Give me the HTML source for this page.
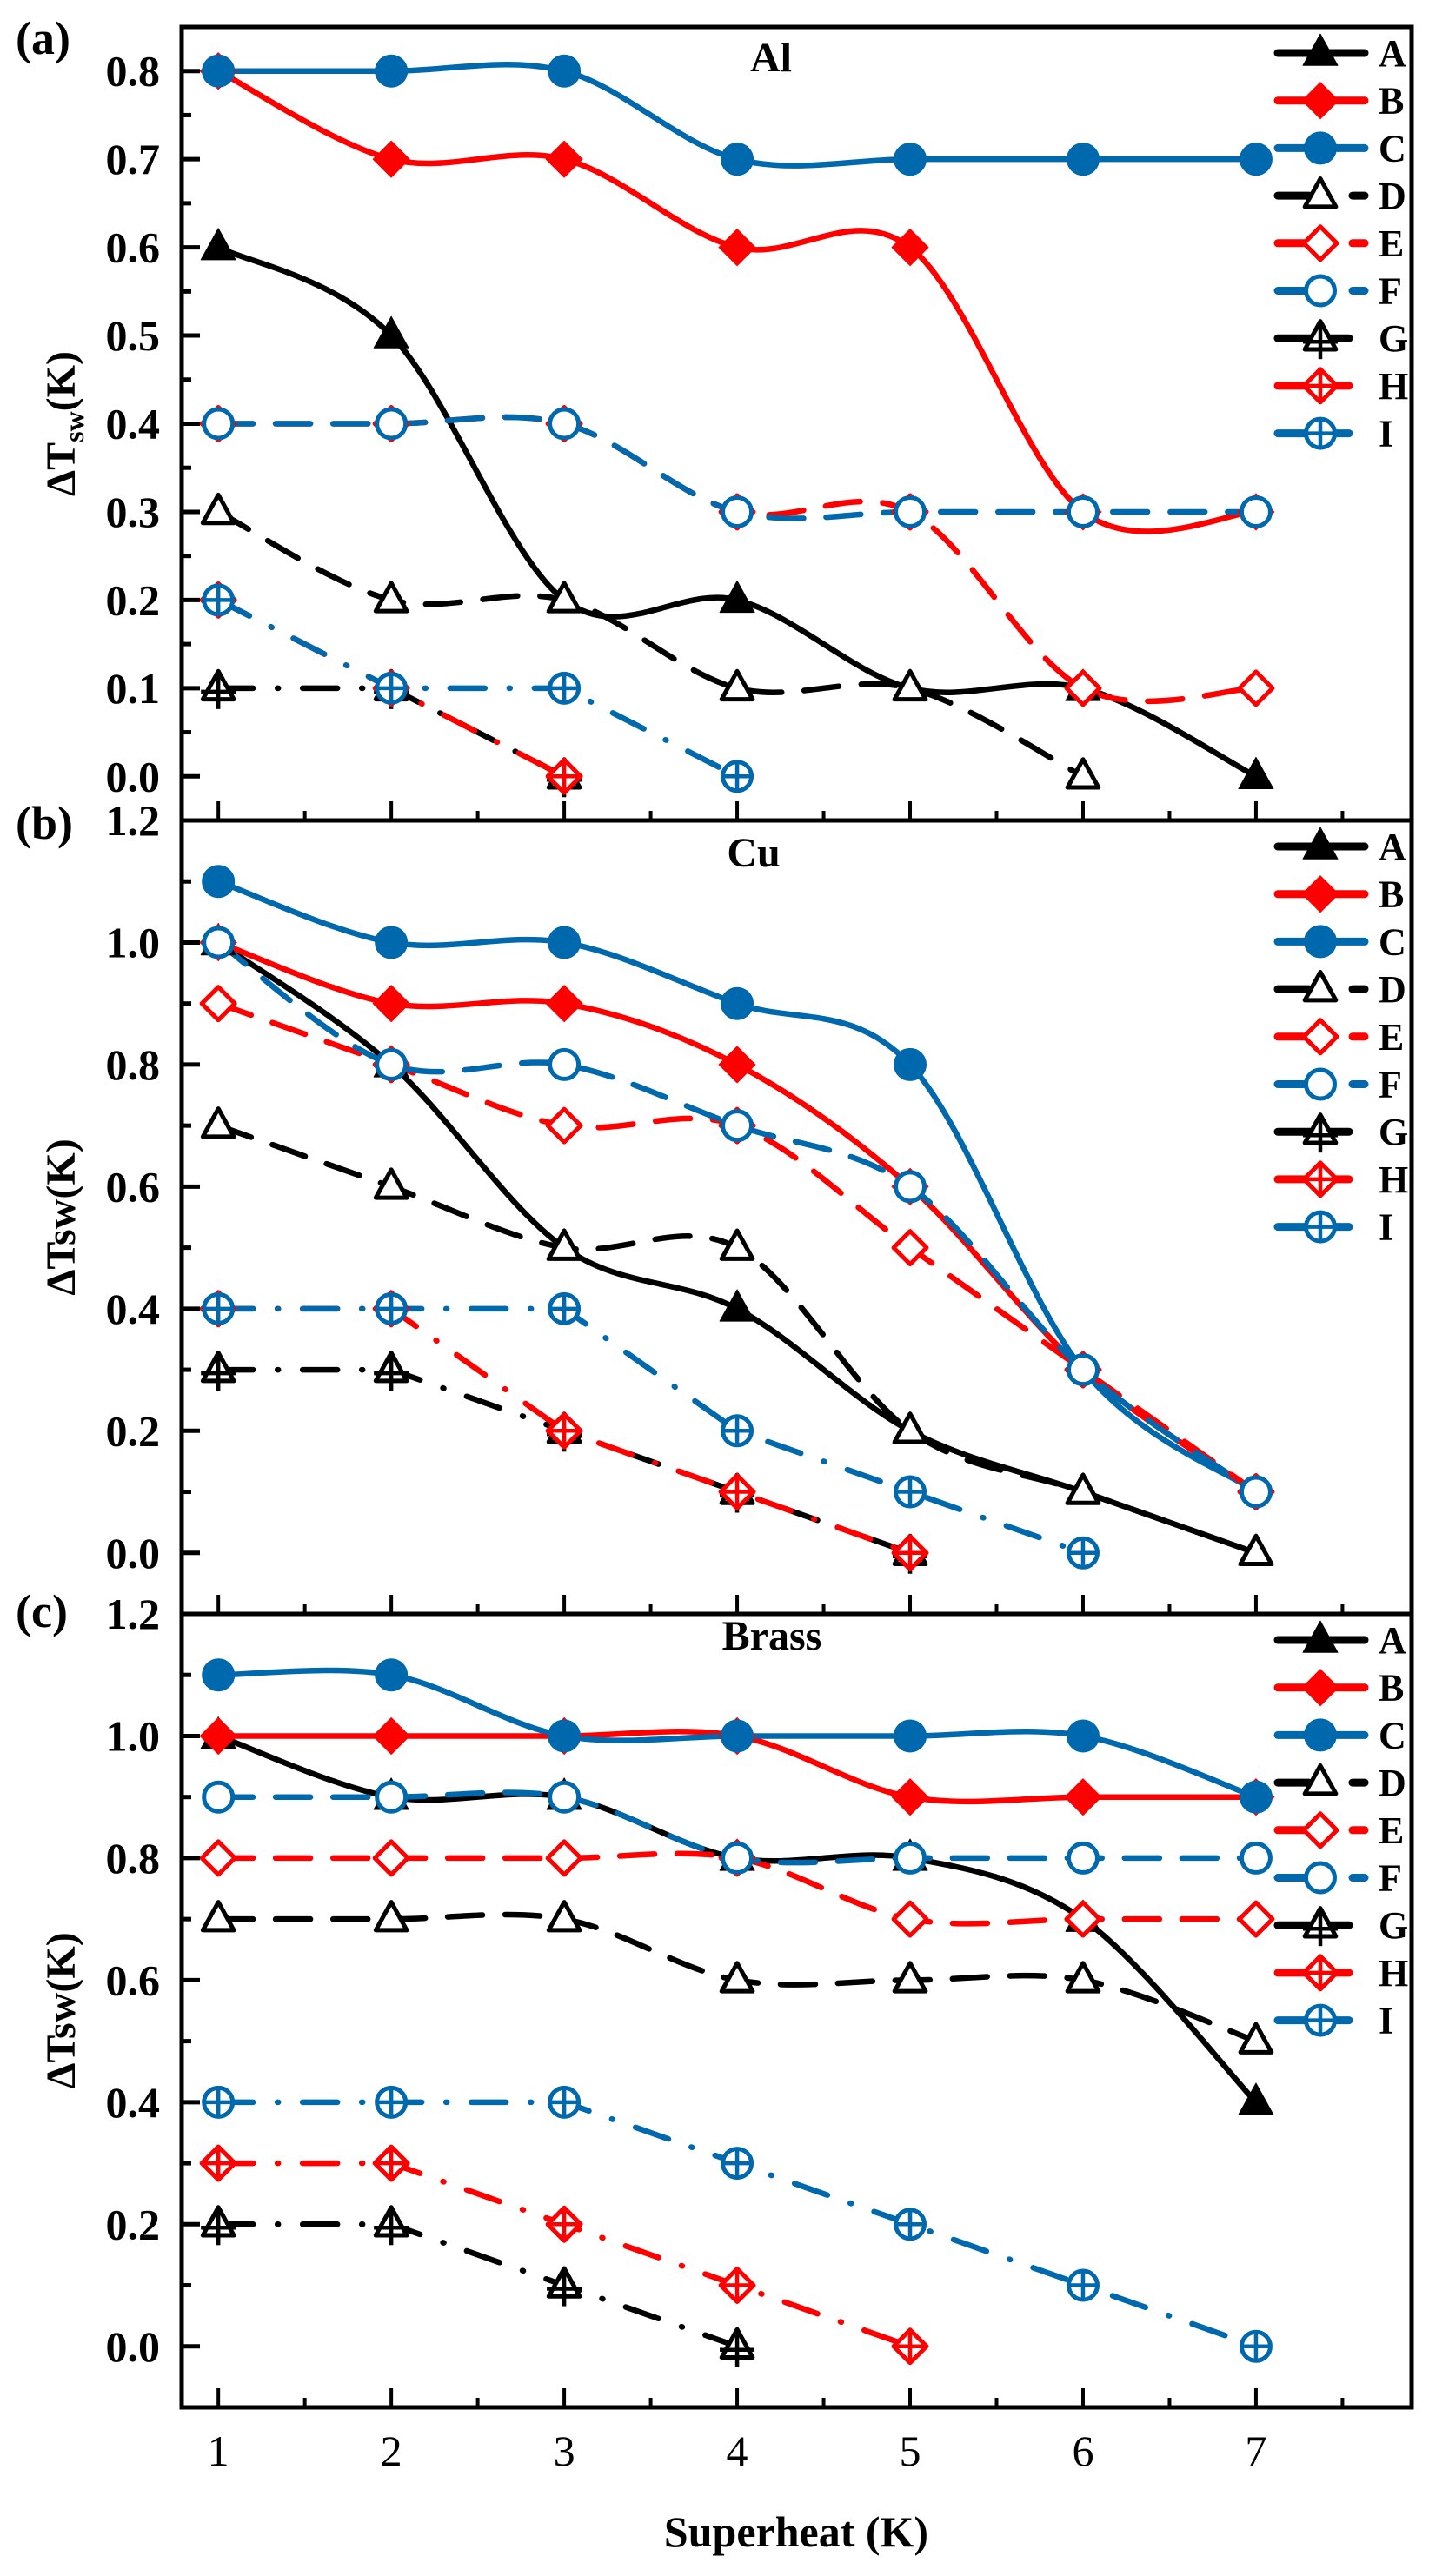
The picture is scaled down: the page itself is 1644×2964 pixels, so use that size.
<!DOCTYPE html>
<html><head><meta charset="utf-8"><style>
html,body{margin:0;padding:0;background:#fff;}
svg{display:block;font-family:"Liberation Serif",serif;font-weight:bold;}
</style></head><body>
<svg id="chart" width="1644" height="2964" viewBox="0 0 1644 2964" xmlns="http://www.w3.org/2000/svg"></svg>
<script>
const xCategories = [1,2,3,4,5,6,7];
const xTickLabels = ['1','2','3','4','5','6','7'];
const seriesNames = ['A','B','C','D','E','F','G','H','I'];
// Panel (a) Al
const alA = [0.6,0.5,0.2,0.2,0.1,0.1,0.0];
const alB = [0.8,0.7,0.7,0.6,0.6,0.3,0.3];
const alC = [0.8,0.8,0.8,0.7,0.7,0.7,0.7];
const alD = [0.3,0.2,0.2,0.1,0.1,0.0];
const alE = [0.4,0.4,0.4,0.3,0.3,0.1,0.1];
const alF = [0.4,0.4,0.4,0.3,0.3,0.3,0.3];
const alG = [0.1,0.1,0.0];
const alH = [0.2,0.1,0.0];
const alI = [0.2,0.1,0.1,0.0];
// Panel (b) Cu
const cuA = [1.0,0.8,0.5,0.4,0.2,0.1,0.0];
const cuB = [1.0,0.9,0.9,0.8,0.6,0.3,0.1];
const cuC = [1.1,1.0,1.0,0.9,0.8,0.3,0.1];
const cuD = [0.7,0.6,0.5,0.5,0.2,0.1,0.0];
const cuE = [0.9,0.8,0.7,0.7,0.5,0.3,0.1];
const cuF = [1.0,0.8,0.8,0.7,0.6,0.3,0.1];
const cuG = [0.3,0.3,0.2,0.1,0.0];
const cuH = [0.4,0.4,0.2,0.1,0.0];
const cuI = [0.4,0.4,0.4,0.2,0.1,0.0];
// Panel (c) Brass
const brA = [1.0,0.9,0.9,0.8,0.8,0.7,0.4];
const brB = [1.0,1.0,1.0,1.0,0.9,0.9,0.9];
const brC = [1.1,1.1,1.0,1.0,1.0,1.0,0.9];
const brD = [0.7,0.7,0.7,0.6,0.6,0.6,0.5];
const brE = [0.8,0.8,0.8,0.8,0.7,0.7,0.7];
const brF = [0.9,0.9,0.9,0.8,0.8,0.8,0.8];
const brG = [0.2,0.2,0.1,0.0];
const brH = [0.3,0.3,0.2,0.1,0.0];
const brI = [0.4,0.4,0.4,0.3,0.2,0.1,0.0];
const yTicksA = ['0.0','0.1','0.2','0.3','0.4','0.5','0.6','0.7','0.8'];
const yTicksBC = ['0.0','0.2','0.4','0.6','0.8','1.0','1.2'];

const NS='http://www.w3.org/2000/svg';
const svg=document.getElementById('chart');
function mk(tag,attrs,parent){const e=document.createElementNS(NS,tag);for(const k in attrs)e.setAttribute(k,attrs[k]);(parent||svg).appendChild(e);return e;}

const L=209,R=1624,XMIN=0.788,XMAX=7.9;
function xs(v){return L+(v-XMIN)/(XMAX-XMIN)*(R-L);}
const BLACK='#000',RED='#ff0000',BLUE='#0068ad';
const styles=[
 {c:BLACK,m:'tri',fill:true,d:'solid'},{c:RED,m:'dia',fill:true,d:'solid'},{c:BLUE,m:'cir',fill:true,d:'solid'},
 {c:BLACK,m:'tri',fill:false,d:'dash'},{c:RED,m:'dia',fill:false,d:'dash'},{c:BLUE,m:'cir',fill:false,d:'dash'},
 {c:BLACK,m:'tri',fill:false,d:'dashdot',plus:true},{c:RED,m:'dia',fill:false,d:'dashdot',plus:true},{c:BLUE,m:'cir',fill:false,d:'dashdot',plus:true}];
const dashes={solid:'none',dash:'40 26',dashdot:'40 28 1 28'};

function marker(g,st,x,y){
  const sw=5;
  const fill=st.fill?st.c:'#fff';
  const common={fill:fill,stroke:st.c,'stroke-width':st.fill?1:sw,'stroke-linejoin':'round'};
  let e;
  if(st.m==='tri'){const h=st.fill?19:17;e=mk('polygon',Object.assign({points:`${x},${y-h*1.15} ${x+h*1.05},${y+h*0.75} ${x-h*1.05},${y+h*0.75}`},common),g);}
  else if(st.m==='dia'){const h=st.fill?21:19;e=mk('polygon',Object.assign({points:`${x},${y-h} ${x+h},${y} ${x},${y+h} ${x-h},${y}`},common),g);}
  else {e=mk('circle',Object.assign({cx:x,cy:y,r:st.fill?18.5:16.5},common),g);}
  
  
  if(st.plus){
    const vb=st.m==='tri'?24:16, hb=st.m==='tri'?20:16;
    mk('line',{x1:x,y1:y-16,x2:x,y2:y+vb,stroke:st.c,'stroke-width':4.5},g);
    mk('line',{x1:x-hb,y1:y+(st.m==='tri'?4:0),x2:x+hb,y2:y+(st.m==='tri'?4:0),stroke:st.c,'stroke-width':4.5},g);
  }
}
function splinePath(pts){
  let d=`M${pts[0][0]},${pts[0][1]}`;
  for(let i=0;i<pts.length-1;i++){
    const p0=pts[Math.max(0,i-1)],p1=pts[i],p2=pts[i+1],p3=pts[Math.min(pts.length-1,i+2)];
    const c1=[p1[0]+(p2[0]-p0[0])/6,p1[1]+(p2[1]-p0[1])/6];
    const c2=[p2[0]-(p3[0]-p1[0])/6,p2[1]-(p3[1]-p1[1])/6];
    d+=` C${c1[0]},${c1[1]} ${c2[0]},${c2[1]} ${p2[0]},${p2[1]}`;
  }
  return d;
}

function panel(cfg){
  const {top,bottom,ymin,ymax,series,yLabels,yStep,yMinor,title,titleY,label,labelY,name,subTitle}=cfg;
  const ys=v=>bottom-(v-ymin)/(ymax-ymin)*(bottom-top);
  const g=mk('g',{});
  
  
  series.forEach((vals,si)=>{
    const st=styles[si];
    const pts=vals.map((v,i)=>[xs(xCategories[i]),ys(v)]);
    const d=st.d==='dashdot'?('M'+pts.map(p=>p.join(',')).join(' L')):splinePath(pts);
    const p=mk('path',{d:d,fill:'none',stroke:st.c,'stroke-width':6.5,'stroke-dasharray':dashes[st.d],'stroke-linecap':'round'},g);
    
    
  });
  series.forEach((vals,si)=>{
    const mg=mk('g',{},g);
    
    
    vals.forEach((v,i)=>marker(mg,styles[si],xs(xCategories[i]),ys(v)));
  });
  const box=mk('rect',{x:L,y:top,width:R-L,height:bottom-top,fill:'none',stroke:'#000','stroke-width':5},g);
  
  
  yLabels.forEach((lab,i)=>{
    const v=i*yStep, y=ys(v);
    mk('line',{x1:L,y1:y,x2:L+21,y2:y,stroke:'#000','stroke-width':5},g);
    const t=mk('text',{x:184,y:y+17,'text-anchor':'end','font-size':50},g);
    t.textContent=lab;
    
    
  });
  for(let v=yMinor;v<ymax;v+=yStep){mk('line',{x1:L,y1:ys(v),x2:L+11,y2:ys(v),stroke:'#000','stroke-width':5},g);}
  xCategories.forEach(c=>{mk('line',{x1:xs(c),y1:bottom,x2:xs(c),y2:bottom-22,stroke:'#000','stroke-width':4},g);
    mk('line',{x1:xs(c+0.5),y1:bottom,x2:xs(c+0.5),y2:bottom-11,stroke:'#000','stroke-width':4},g);});
  const tt=mk('text',{x:cfg.titleX,y:titleY,'text-anchor':'middle','font-size':48},g);
  tt.textContent=title;
  
  
  const pl=mk('text',{x:18,y:labelY,'font-size':54},g);
  pl.textContent=label;
  
  
  const cy=(top+bottom)/2;
  const yt=mk('text',{x:0,y:0,'text-anchor':'middle','font-size':48,transform:`translate(86,${cy}) rotate(-90)`},g);
  if(subTitle){yt.innerHTML='ΔT<tspan font-size="32" dy="10">sw</tspan><tspan dy="-10">(K)</tspan>';}
  else yt.textContent='ΔTsw(K)';
  
  
  const lg=mk('g',{},g);
  
  
  seriesNames.forEach((n,i)=>{
    const st=styles[i], y=top+30+i*54.7;
    const eg=mk('g',{},lg);
    
    
    mk('line',{x1:1470,y1:y,x2:st.d==='dashdot'?1552:1570,y2:y,stroke:st.c,'stroke-width':9,'stroke-dasharray':st.d==='dash'?'36 50 18':'none','stroke-linecap':'round'},eg);
    marker(eg,st,1519,y);
    const t=mk('text',{x:1586,y:y+15,'font-size':44},eg);t.textContent=n;
  });
}

panel({name:'panel-a-al',top:31,bottom:944,ymin:-0.05,ymax:0.85,yLabels:yTicksA,yStep:0.1,yMinor:0.05,
  series:[alA,alB,alC,alD,alE,alF,alG,alH,alI],title:'Al',titleX:887,titleY:82,label:'(a)',labelY:62,subTitle:true});
panel({name:'panel-b-cu',top:944,bottom:1857,ymin:-0.1,ymax:1.2,yLabels:yTicksBC,yStep:0.2,yMinor:0.1,
  series:[cuA,cuB,cuC,cuD,cuE,cuF,cuG,cuH,cuI],title:'Cu',titleX:867,titleY:997,label:'(b)',labelY:965,subTitle:false});
panel({name:'panel-c-brass',top:1857,bottom:2770,ymin:-0.1,ymax:1.2,yLabels:yTicksBC,yStep:0.2,yMinor:0.1,
  series:[brA,brB,brC,brD,brE,brF,brG,brH,brI],title:'Brass',titleX:888,titleY:1898,label:'(c)',labelY:1872,subTitle:false});

xTickLabels.forEach((lab,i)=>{
  const t=mk('text',{x:xs(xCategories[i]),y:2837,'text-anchor':'middle','font-size':50,'font-weight':'normal'});
  t.textContent=lab;
  
  
});
const xt=mk('text',{x:916,y:2930,'text-anchor':'middle','font-size':50});
xt.textContent='Superheat (K)';


</script>
</body></html>
